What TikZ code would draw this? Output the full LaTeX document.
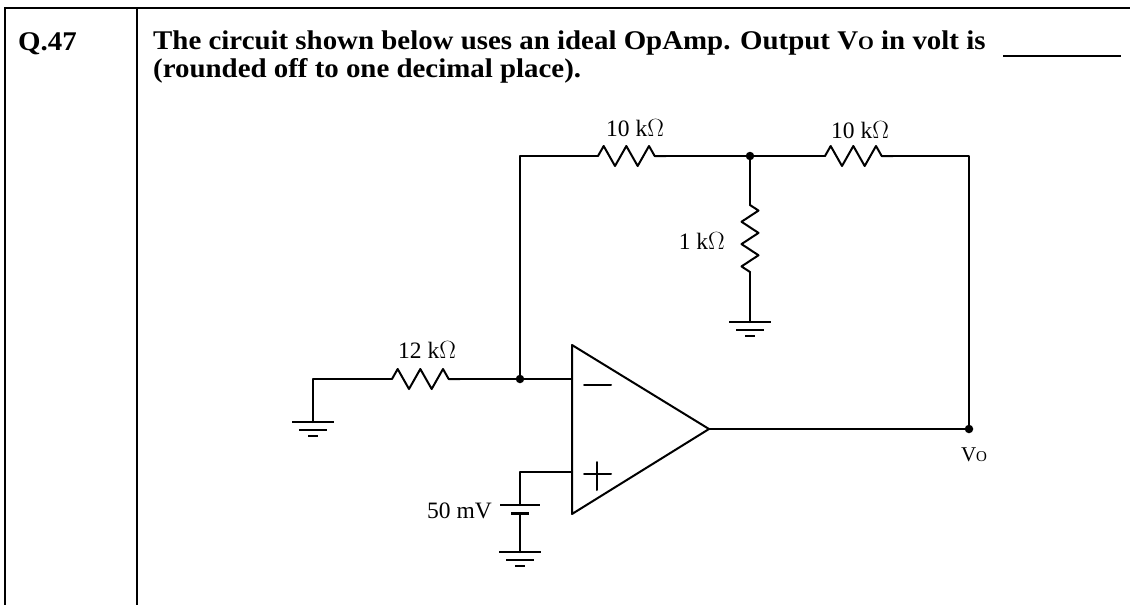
\documentclass[tikz,border=0pt]{standalone}
\usepackage{fontspec}
\setmainfont{Liberation Serif}
\newfontfamily\headfont[FakeStretch=1.07]{Liberation Serif}
\usetikzlibrary{decorations.pathmorphing,calc}
\tikzset{
  wire/.style={line width=2pt, line cap=round, line join=round},
  frame/.style={line width=2.4pt},
  hres/.style={wire, decorate, decoration={zigzag, segment length=22.667pt, amplitude=10pt}},
  vres/.style={wire, decorate, decoration={zigzag, segment length=22.333pt, amplitude=8.5pt}},
  dot/.style={circle, fill=black, inner sep=0pt, minimum size=8.5pt},
  lbl/.style={inner sep=0pt, font=\fontsize{23.5}{26}\selectfont},
  head/.style={inner sep=0pt, anchor=base west, font=\headfont\bfseries\fontsize{27}{30}\selectfont},
  gnd/.pic={
    \draw[wire, line cap=butt] (-21,0) -- (21,0);
    \draw[wire, line cap=butt] (-14,8) -- (14,8);
    \draw[wire, line cap=butt] (-5,14) -- (5,14);
  }
}
\begin{document}
\begin{tikzpicture}[x=1pt, y=-1pt]
\useasboundingbox (0,0) rectangle (1130,605);
% frame
\coordinate (tl) at (5,8);
\coordinate (tr) at (1130,8);
\coordinate (bl) at (5,605);
\coordinate (dt) at (137,8);
\coordinate (db) at (137,605);
\draw[frame] (bl) -- (tl) -- (tr);
\draw[frame] (dt) -- (db);
% heading
\node[head] (q) at (18,50) {Q.47};
\node[head] (l1) at (153,49) {The circuit shown below uses an ideal OpAmp. Output V{\fontsize{19}{22}\selectfont O} in volt is};
\node[head] (l2) at (153,77) {(rounded off to one decimal place).};
\coordinate (u1) at (1003,56);
\coordinate (u2) at (1121,56);
\draw[line width=2.2pt] (u1) -- (u2);
% circuit coordinates
\coordinate (A) at (520,156);   % top-left corner
\coordinate (R1a) at (598,156);
\coordinate (R1b) at (666,156);
\coordinate (B) at (750,156);   % junction
\coordinate (R2a) at (825,156);
\coordinate (R2b) at (893,156);
\coordinate (C) at (969,156);   % top-right corner
\coordinate (R3a) at (750,205);
\coordinate (R3b) at (750,272);
\coordinate (G1) at (750,322);
\coordinate (N) at (520,379);   % inverting node
\coordinate (R4a) at (392,379);
\coordinate (R4b) at (460,379);
\coordinate (D) at (313,379);
\coordinate (G2) at (313,422);
\coordinate (Inm) at (572,379);
\coordinate (Inp) at (572,472);
\coordinate (E) at (520,472);
\coordinate (Bt) at (520,505);
\coordinate (Bb) at (520,513);
\coordinate (G3) at (520,552);
\coordinate (O) at (709,429);
\coordinate (Vo) at (969,429);
% opamp
\draw[wire] (572,345) -- (O) -- (572,514) -- cycle;
\draw[wire] (584,385) -- (611,385);
\draw[wire] (584,474) -- (611,474);
\draw[wire] (597,462) -- (597,490);
% wires
\draw[wire] (N) -- (A) -- (R1a);
\draw[hres] (R1a) -- (R1b);
\draw[wire] (R1b) -- (B) -- (R2a);
\draw[hres] (R2a) -- (R2b);
\draw[wire] (R2b) -- (C) -- (Vo);
\draw[wire] (B) -- (R3a);
\draw[vres] (R3a) -- (R3b);
\draw[wire] (R3b) -- (G1);
\pic at (G1) {gnd};
\draw[wire] (G2) -- (D) -- (R4a);
\draw[hres] (R4a) -- (R4b);
\draw[wire] (R4b) -- (N) -- (Inm);
\pic at (G2) {gnd};
\draw[wire] (Inp) -- (E) -- (Bt);
\draw[wire, line cap=butt] ($(Bt)+(-20,0)$) -- ($(Bt)+(20,0)$);
\draw[line width=3pt] ($(Bb)+(-9,0)$) -- ($(Bb)+(9,0)$);
\draw[wire] (Bb) -- (G3);
\pic at (G3) {gnd};
\draw[wire] (O) -- (Vo);
% dots
\node[dot] (dN) at (N) {};
\node[dot] (dB) at (B) {};
\node[dot] (dV) at (Vo) {};
% labels
\node[lbl] (t1) at (635,128) {10 k$\Omega$};
\node[lbl] (t2) at (860,130) {10 k$\Omega$};
\node[lbl, anchor=east] (t3) at (725,241) {1 k$\Omega$};
\node[lbl] (t4) at (427,350) {12 k$\Omega$};
\node[lbl, anchor=east] (t5) at (492,511) {50 mV};
\node[lbl] (t6) at (974,455) {\fontsize{21}{24}\selectfont V{\fontsize{15}{17}\selectfont O}};
\end{tikzpicture}
\end{document}
